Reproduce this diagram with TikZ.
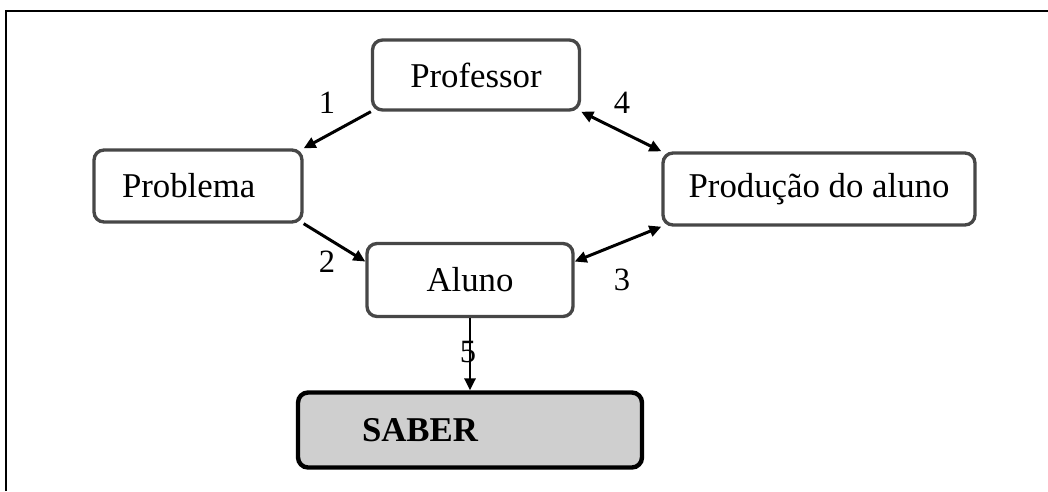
\documentclass[tikz,border=0pt]{standalone}
\usepackage{fontspec}
\setmainfont{Liberation Serif}
\usetikzlibrary{arrows.meta}

\begin{document}
\begin{tikzpicture}[x=0.02cm,y=-0.02cm,
        caixa/.style={draw=black!72,line width=1.9pt,rounded corners=0.2cm,
            inner sep=0pt,font=\fontsize{19.8}{22}\selectfont},
        seta/.style={line width=1.7pt,-{Triangle[length=0.24cm,width=0.22cm]}},
        setadupla/.style={line width=1.7pt,{Triangle[length=0.24cm,width=0.22cm]}-{Triangle[length=0.24cm,width=0.22cm]}},
        numero/.style={font=\fontsize{18.5}{20}\selectfont,inner sep=1pt}]
    \useasboundingbox
        (0,0) rectangle (1048,491);
    \draw[line width=1.1pt]
        (6,491) -- (6,11) -- (1048,11);
    \node[caixa,minimum width=4.14cm,minimum height=1.4cm] (professor)
        at (476,75) {Professor};
    \node[caixa,minimum width=4.16cm,minimum height=1.44cm,
        text width=3.04cm,align=left,inner xsep=0.56cm] (problema)
        at (198,186) {Problema};
    \node[caixa,minimum width=6.24cm,minimum height=1.44cm] (producao)
        at (819,189) {Produção do aluno};
    \node[caixa,minimum width=4.12cm,minimum height=1.46cm] (aluno)
        at (470,280) {Aluno};
    \node[caixa,draw=black,line width=2.5pt,fill=black!19,
        minimum width=6.88cm,minimum height=1.5cm,
        text width=4.32cm,align=left,inner xsep=1.28cm] (saber)
        at (470,430) {\textbf{SABER}};
    \draw[seta]
        (professor.south west) -- (problema.north east);
    \draw[setadupla]
        (professor.south east) -- (producao.north west);
    \draw[seta]
        (problema.south east) -- (aluno.170);
    \draw[setadupla]
        (aluno.10) -- (producao.south west);
    \draw[seta]
        (aluno.south) -- (saber.north);
    \node[numero] (n1) at (327,103) {1};
    \node[numero] (n2) at (327,262) {2};
    \node[numero] (n3) at (622,280) {3};
    \node[numero] (n4) at (622,103) {4};
    \node[numero] (n5) at (468,352) {5};
\end{tikzpicture}
\end{document}
